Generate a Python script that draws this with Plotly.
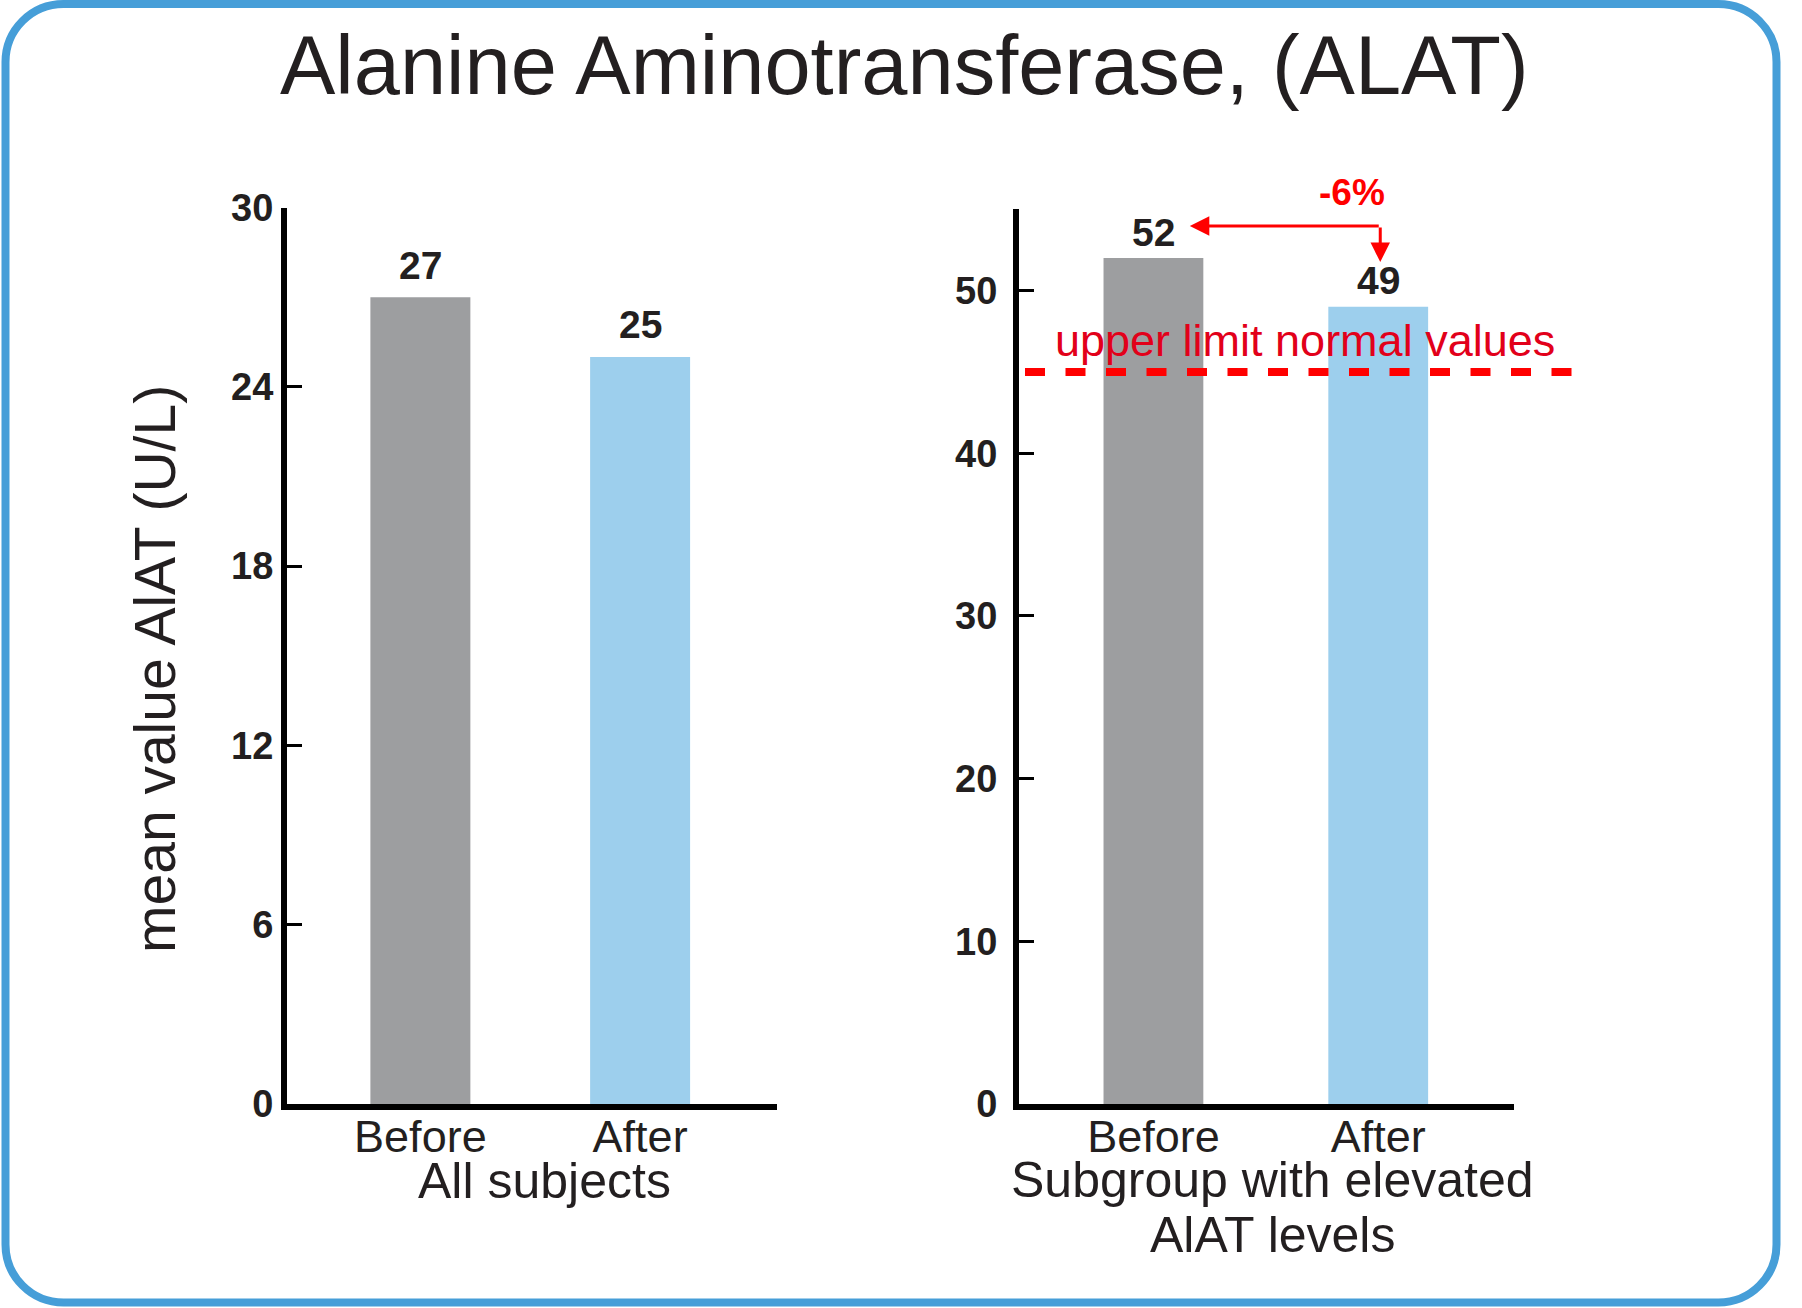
import plotly.graph_objects as go

# ---------------- data ----------------
categories = ["Before", "After"]
all_subjects = [27, 25]
subgroup = [52, 49]
upper_limit = 45
change_label = "-6%"
left_ticks = [0, 6, 12, 18, 24, 30]
right_ticks = [0, 10, 20, 30, 40, 50]
bar_colors = ["#9d9ea0", "#9dcfed"]

title_text = "Alanine Aminotransferase, (ALAT)"
y_title = "mean value AlAT (U/L)"
left_group = "All subjects"
right_group_1 = "Subgroup with elevated"
right_group_2 = "AlAT levels"
limit_text = "upper limit normal values"

# ---------------- layout helpers ----------------
W, H = 1802, 1308
def px(x):
    return x / W
def py(y):
    return 1 - y / H

FONT = "Liberation Sans, Arial, sans-serif"
INK = "#231f20"
RED = "#ff0000"
RED_TXT = "#e2001a"
BLUE = "#469ed8"

fig = go.Figure()
fig.add_trace(go.Bar(x=categories, y=all_subjects, marker=dict(color=bar_colors, line=dict(width=0)),
                     width=0.455, xaxis="x", yaxis="y", hoverinfo="skip"))
fig.add_trace(go.Bar(x=categories, y=subgroup, marker=dict(color=bar_colors, line=dict(width=0)),
                     width=0.444, xaxis="x2", yaxis="y2", hoverinfo="skip"))

line_common = dict(showgrid=False, zeroline=False, showline=True, linecolor="black", linewidth=6,
                   fixedrange=True, automargin=False)
ytick_common = dict(ticks="inside", ticklen=15, tickwidth=3, tickcolor="black",
                    tickfont=dict(family=FONT, size=38, color=INK, weight="bold"))
xtick_common = dict(ticks="", tickfont=dict(family=FONT, size=45, color=INK), ticklabelstandoff=-12)

fig.update_layout(
    width=W, height=H, margin=dict(l=0, r=0, t=0, b=0, autoexpand=False), showlegend=False,
    paper_bgcolor="white", plot_bgcolor="rgba(0,0,0,0)",
    xaxis=dict(domain=[px(287), px(777)], range=[-0.607, 1.623], type="category",
               **line_common, **xtick_common),
    yaxis=dict(domain=[py(1104), py(207.5)], range=[0, 30], tickvals=left_ticks, anchor="x",
               **line_common, **ytick_common),
    xaxis2=dict(domain=[px(1019), px(1514)], range=[-0.598, 1.604], type="category", anchor="y2",
                **line_common, **xtick_common),
    yaxis2=dict(domain=[py(1104), py(209.2)], range=[0, 55], tickvals=right_ticks, anchor="x2",
                ticklabelstandoff=8, **line_common, **ytick_common),
)

# value labels above bars
for cat, v in zip(categories, all_subjects):
    fig.add_annotation(x=cat, y=v, xref="x", yref="y", text=str(v), showarrow=False,
                       xanchor="center", yshift=32, yanchor="middle",
                       font=dict(family=FONT, size=39, color=INK, weight="bold"))
for cat, v in zip(categories, subgroup):
    fig.add_annotation(x=cat, y=v, xref="x2", yref="y2", text=str(v), showarrow=False,
                       xanchor="center", yshift=26, yanchor="middle",
                       font=dict(family=FONT, size=39, color=INK, weight="bold"))

# upper limit dashed line
fig.add_shape(type="line", xref="paper", yref="y2", x0=px(1025), x1=px(1572), y0=upper_limit, y1=upper_limit,
              line=dict(color=RED, width=8, dash="20px,20.5px"), layer="above")
fig.add_annotation(x=px(1305), y=upper_limit, xref="paper", yref="y2", text=limit_text, showarrow=False,
                   yshift=31, yanchor="middle", xanchor="center",
                   font=dict(family=FONT, size=45, color=RED_TXT))

# change arrow
corner_x = 1.009
corner_y = 53.96
fig.add_annotation(x=0.162, y=corner_y, ax=corner_x, ay=corner_y, xref="x2", yref="y2", axref="x2", ayref="y2",
                   text="", showarrow=True, arrowhead=2, arrowsize=1.3, arrowwidth=3, arrowcolor=RED,
                   standoff=0, startstandoff=0)
fig.add_annotation(x=corner_x, y=51.75, ax=corner_x, ay=corner_y, xref="x2", yref="y2", axref="x2", ayref="y2",
                   text="", showarrow=True, arrowhead=2, arrowsize=1.3, arrowwidth=3, arrowcolor=RED,
                   standoff=0, startstandoff=0)
fig.add_annotation(x=px(1352), y=py(193), xref="paper", yref="paper", text=change_label, showarrow=False,
                   xanchor="center", yanchor="middle", font=dict(family=FONT, size=37, color=RED, weight="bold"))

# titles
fig.add_annotation(x=px(904), y=py(65), xref="paper", yref="paper", text=title_text, showarrow=False,
                   xanchor="center", yanchor="middle", font=dict(family=FONT, size=83, color=INK))
fig.add_annotation(x=px(155), y=py(669), xref="paper", yref="paper", text=y_title, showarrow=False,
                   textangle=-90, xanchor="center", yanchor="middle", font=dict(family=FONT, size=57, color=INK))
fig.add_annotation(x=px(544), y=py(1181), xref="paper", yref="paper", text=left_group, showarrow=False,
                   xanchor="center", yanchor="middle", font=dict(family=FONT, size=50, color=INK))
fig.add_annotation(x=px(1272), y=py(1180), xref="paper", yref="paper", text=right_group_1, showarrow=False,
                   xanchor="center", yanchor="middle", font=dict(family=FONT, size=50, color=INK))
fig.add_annotation(x=px(1272), y=py(1235), xref="paper", yref="paper", text=right_group_2, showarrow=False,
                   xanchor="center", yanchor="middle", font=dict(family=FONT, size=50, color=INK))

# rounded border
L, R, T, B, r = 5.5, 1776.5, 4, 1302.5, 58
k = 0.5523 * r
path = (f"M {px(L + r)},{py(T)} L {px(R - r)},{py(T)} "
        f"C {px(R - r + k)},{py(T)} {px(R)},{py(T + r - k)} {px(R)},{py(T + r)} "
        f"L {px(R)},{py(B - r)} "
        f"C {px(R)},{py(B - r + k)} {px(R - r + k)},{py(B)} {px(R - r)},{py(B)} "
        f"L {px(L + r)},{py(B)} "
        f"C {px(L + r - k)},{py(B)} {px(L)},{py(B - r + k)} {px(L)},{py(B - r)} "
        f"L {px(L)},{py(T + r)} "
        f"C {px(L)},{py(T + r - k)} {px(L + r - k)},{py(T)} {px(L + r)},{py(T)} Z")
fig.add_shape(type="path", xref="paper", yref="paper", path=path, line=dict(color=BLUE, width=8), layer="above")

pin = ("var d=document.getElementById('{plot_id}');"
       "d.style.position='fixed';d.style.left='0px';d.style.top='0px';"
       "document.body.style.margin='0px';document.body.style.overflow='hidden';"
       "document.documentElement.style.overflow='hidden';")
fig.write_html("out.html", post_script=pin, config={"displayModeBar": False})
